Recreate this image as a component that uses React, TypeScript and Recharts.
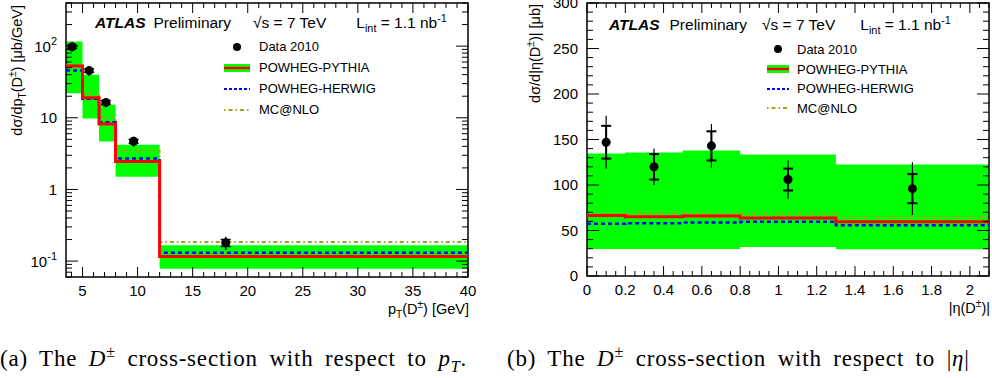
import React from 'react';
import { ComposedChart, Area, Line, Scatter, ErrorBar, XAxis, YAxis, Legend, ReferenceArea } from 'recharts';

// ---- pT panel (a) ----
const ptEdges = [3.5, 5, 6.5, 8, 12, 40];
const ptPythia = [53, 19, 8.2, 2.45, 0.116];
const ptPythiaLow = [22, 9.8, 4.65, 1.5, 0.078];
const ptPythiaHigh = [116, 40, 15.2, 4.2, 0.166];
const ptHerwig = [45.6, 18.5, 8.7, 2.7, 0.131];
const ptMcnlo = [54, 21.7, 10.2, 3.5, 0.185];
const ptDataX = [4.06, 5.6, 7.12, 9.64, 18.0];
const ptDataY = [98, 45.6, 16.4, 4.7, 0.18];
const ptDataErr = [14, 7, 2.4, 0.75, 0.037];
const ptDataStat = [5, 2.5, 1, 0.3, 0.02];
const ptTicks = [5, 10, 15, 20, 25, 30, 35, 40];
const ptLogTicks = [0.1, 1, 10, 100];

// ---- |eta| panel (b) ----
const etaEdges = [0, 0.2, 0.5, 0.8, 1.3, 2.1];
const etaPythia = [66.5, 65, 65.8, 63.6, 59.7];
const etaPythiaLow = [29.8, 29.8, 29.8, 31.8, 29.4];
const etaPythiaHigh = [134.5, 135.6, 137.8, 133.4, 122.4];
const etaHerwig = [57.3, 58.1, 58.8, 59.5, 55.9];
const etaMcnlo = [67.5, 68, 68, 68, 64.5];
const etaDataX = [0.1, 0.35, 0.65, 1.05, 1.7];
const etaDataY = [147, 120, 143, 106, 96];
const etaDataErr = [29, 20, 24, 21, 29];
const etaDataStat = [18, 14, 16, 12, 16];
const etaTicks = [0, 0.2, 0.4, 0.6, 0.8, 1, 1.2, 1.4, 1.6, 1.8, 2];
const etaYTicks = [0, 50, 100, 150, 200, 250, 300];

const legendNames = ['Data 2010', 'POWHEG-PYTHIA', 'POWHEG-HERWIG', 'MC@NLO'];

const FONT = '"Liberation Sans", Arial, Helvetica, sans-serif';
const SERIF = '"Liberation Serif", "Times New Roman", serif';
const GREEN = '#00ff00';
const RED = '#ff0000';
const BLUE = '#0000ff';
const OLIVE = '#a5a020';
const TICK_GAP = 8;

const stepRows = (edges: number[], mid: number[], lo: number[], hi: number[], her: number[], mc: number[]) =>
  edges.map((x, i) => {
    const j = Math.min(i, mid.length - 1);
    return { x, band: [lo[j], hi[j]], pythia: mid[j], herwig: her[j], mcnlo: mc[j] };
  });

const pointRows = (xs: number[], ys: number[], err: number[], stat: number[]) =>
  xs.map((x, i) => ({ x, y: ys[i], err: err[i], stat: stat[i] }));

const range = (a: number, b: number, step: number) => {
  const out: number[] = [];
  for (let v = a; v <= b + 1e-9; v += step) out.push(Math.round(v * 1000) / 1000);
  return out;
};

const logMinor = (lo: number, hi: number) => {
  const out: number[] = [];
  for (let e = -2; e <= 2; e++) {
    for (let m = 1; m <= 9; m++) {
      const v = m * Math.pow(10, e);
      if (v >= lo && v <= hi) out.push(v);
    }
  }
  return out;
};

const isMajor = (majors: number[], v: number) => majors.some((m) => Math.abs(m - v) < 1e-6 * Math.max(1, Math.abs(m)));

const logLabel = (v: number) => {
  const e = Math.round(Math.log10(v));
  if (e === 0) return '1';
  if (e === 1) return '10';
  return (
    <>
      10
      <tspan dy={-7} fontSize={11}>{e}</tspan>
    </>
  );
};

// x ticks: inward on bottom and top of the frame, label only on majors
const makeXTick = (majors: number[], top: number, fmt: (v: number) => React.ReactNode) => (props: any) => {
  const { x, y, payload } = props;
  const v = payload.value;
  const maj = isMajor(majors, v);
  const bottom = y - TICK_GAP;
  const len = maj ? 10 : 5;
  return (
    <g>
      <line x1={x} x2={x} y1={bottom} y2={bottom - len} stroke="#000" />
      <line x1={x} x2={x} y1={top} y2={top + len} stroke="#000" />
      {maj && (
        <text x={x} y={y} dy="0.71em" textAnchor="middle" fontSize={15} fontFamily={FONT} fill="#000">{fmt(v)}</text>
      )}
    </g>
  );
};

// y ticks: inward on left and right of the frame
const makeYTick = (majors: number[], plotW: number, fmt: (v: number) => React.ReactNode) => (props: any) => {
  const { x, y, payload } = props;
  const v = payload.value;
  const maj = isMajor(majors, v);
  const left = x + TICK_GAP + 1;
  const right = left + plotW;
  const len = maj ? 12 : 6;
  return (
    <g>
      <line x1={left} x2={left + len} y1={y} y2={y} stroke="#000" />
      <line x1={right} x2={right - len} y1={y} y2={y} stroke="#000" />
      {maj && (
        <text x={x} y={y} dy="0.36em" textAnchor="end" fontSize={15} fontFamily={FONT} fill="#000">{fmt(v)}</text>
      )}
    </g>
  );
};

const LegendSymbol = ({ kind, w }: { kind: number; w: number }) => (
  <svg width={w} height={16} style={{ display: 'block' }}>
    {kind === 0 && <circle cx={w / 2} cy={8} r={4} fill="#000" />}
    {kind === 1 && (
      <>
        <rect x={2} y={4} width={w - 4} height={8} fill={GREEN} />
        <line x1={2} x2={w - 2} y1={8} y2={8} stroke={RED} strokeWidth={2.5} />
      </>
    )}
    {kind === 2 && <line x1={2} x2={w - 2} y1={8} y2={8} stroke={BLUE} strokeWidth={2} strokeDasharray="3 2" />}
    {kind === 3 && <line x1={2} x2={w - 2} y1={8} y2={8} stroke={OLIVE} strokeWidth={2} strokeDasharray="1.5 3 4 3" />}
  </svg>
);

const makeLegend = (rowH: number, symW: number, gap: number) => () => (
  <div style={{ fontFamily: FONT, fontSize: 13, color: '#000' }}>
    {legendNames.map((n, i) => (
      <div key={n} style={{ display: 'flex', alignItems: 'center', height: rowH }}>
        <LegendSymbol kind={i} w={symW} />
        <span style={{ marginLeft: gap, whiteSpace: 'nowrap' }}>{n}</span>
      </div>
    ))}
  </div>
);

const sup = { fontSize: '0.7em', verticalAlign: '0.55em', lineHeight: 0 } as const;
const sub = { fontSize: '0.7em', verticalAlign: '-0.35em', lineHeight: 0 } as const;

const Header = ({ x, y, gaps }: { x: number; y: number; gaps: number[] }) => (
  <div style={{ position: 'absolute', left: x, top: y - 10, height: 20, lineHeight: '20px', fontFamily: FONT, fontSize: 15.5, whiteSpace: 'nowrap' }}>
    <span style={{ fontWeight: 'bold', fontStyle: 'italic' }}>ATLAS</span>
    <span style={{ marginLeft: gaps[0] }}>Preliminary</span>
    <span style={{ marginLeft: gaps[1] }}>√s = 7 TeV</span>
    <span style={{ marginLeft: gaps[2] }}>L<span style={sub}>int</span> = 1.1 nb<span style={sup}>-1</span></span>
  </div>
);

const PtChart = () => {
  const steps = stepRows(ptEdges, ptPythia, ptPythiaLow, ptPythiaHigh, ptHerwig, ptMcnlo);
  const pts = pointRows(ptDataX, ptDataY, ptDataErr, ptDataStat);
  const xd = [3.5, 40];
  const yd = [0.06, 400];
  const m = { top: 3, right: 12, bottom: 3, left: 6 };
  const W = 480, H = 300, yW = 60, xH = 20;
  const plotW = W - m.left - m.right - yW;
  return (
    <ComposedChart width={W} height={H} margin={m}>
      <Area xAxisId="x" yAxisId="y" data={steps} dataKey="band" type="stepAfter" fill={GREEN} fillOpacity={1}
        stroke="none" isAnimationActive={false} />
      <Line xAxisId="x" yAxisId="y" data={steps} dataKey="mcnlo" type="stepAfter" stroke={OLIVE} strokeWidth={2}
        strokeDasharray="1.5 3 4 3" dot={false} isAnimationActive={false} />
      <Line xAxisId="x" yAxisId="y" data={steps} dataKey="herwig" type="stepAfter" stroke={BLUE} strokeWidth={2.5}
        strokeDasharray="4 3" dot={false} isAnimationActive={false} />
      <Line xAxisId="x" yAxisId="y" data={steps} dataKey="pythia" type="stepAfter" stroke={RED} strokeWidth={3}
        dot={false} isAnimationActive={false} />
      <Scatter xAxisId="x" yAxisId="y" data={pts} dataKey="y" fill="#000" isAnimationActive={false}>
        <ErrorBar dataKey="err" direction="y" width={0} stroke="#000" strokeWidth={1.5} />
        <ErrorBar dataKey="stat" direction="y" width={5} stroke="#000" strokeWidth={1.5} />
      </Scatter>
      <ReferenceArea xAxisId="x" yAxisId="y" x1={xd[0]} x2={xd[1]} y1={yd[0]} y2={yd[1]}
        fill="none" stroke="#000" strokeWidth={1.5} />
      <XAxis xAxisId="x" dataKey="x" type="number" domain={xd} allowDataOverflow ticks={range(4, 40, 1)} interval={0}
        tickLine={false} axisLine={false} tickSize={0} tickMargin={TICK_GAP} height={xH}
        tick={makeXTick(ptTicks, m.top, (v) => String(v))} />
      <YAxis yAxisId="y" type="number" scale="log" domain={yd} allowDataOverflow ticks={logMinor(0.06, 400)} interval={0}
        tickLine={false} axisLine={false} tickSize={0} tickMargin={TICK_GAP + 1} width={yW}
        tick={makeYTick(ptLogTicks, plotW, logLabel)} />
      <Legend content={makeLegend(21, 30, 7)} layout="vertical" verticalAlign="middle" align="center"
        wrapperStyle={{ left: 222, top: 36, width: 200 }} />
    </ComposedChart>
  );
};

const EtaChart = () => {
  const steps = stepRows(etaEdges, etaPythia, etaPythiaLow, etaPythiaHigh, etaHerwig, etaMcnlo);
  const pts = pointRows(etaDataX, etaDataY, etaDataErr, etaDataStat);
  const xd = [0, 2.1];
  const yd = [0, 300];
  const m = { top: 3, right: 3, bottom: 4, left: 27 };
  const W = 492, H = 300, yW = 60, xH = 20;
  const plotW = W - m.left - m.right - yW;
  return (
    <ComposedChart width={W} height={H} margin={m}>
      <Area xAxisId="x" yAxisId="y" data={steps} dataKey="band" type="stepAfter" fill={GREEN} fillOpacity={1}
        stroke="none" isAnimationActive={false} />
      <Line xAxisId="x" yAxisId="y" data={steps} dataKey="mcnlo" type="stepAfter" stroke={OLIVE} strokeWidth={2}
        strokeDasharray="1.5 3 4 3" dot={false} isAnimationActive={false} />
      <Line xAxisId="x" yAxisId="y" data={steps} dataKey="herwig" type="stepAfter" stroke={BLUE} strokeWidth={2.5}
        strokeDasharray="4 3" dot={false} isAnimationActive={false} />
      <Line xAxisId="x" yAxisId="y" data={steps} dataKey="pythia" type="stepAfter" stroke={RED} strokeWidth={3}
        dot={false} isAnimationActive={false} />
      <Scatter xAxisId="x" yAxisId="y" data={pts} dataKey="y" fill="#000" isAnimationActive={false}>
        <ErrorBar dataKey="err" direction="y" width={0} stroke="#000" strokeWidth={1.2} />
        <ErrorBar dataKey="stat" direction="y" width={5} stroke="#000" strokeWidth={2} />
      </Scatter>
      <ReferenceArea xAxisId="x" yAxisId="y" x1={xd[0]} x2={xd[1]} y1={yd[0]} y2={yd[1]}
        fill="none" stroke="#000" strokeWidth={1.5} />
      <XAxis xAxisId="x" dataKey="x" type="number" domain={xd} allowDataOverflow ticks={range(0, 2.1, 0.05)} interval={0}
        tickLine={false} axisLine={false} tickSize={0} tickMargin={TICK_GAP} height={xH}
        tick={makeXTick(etaTicks, m.top, (v) => String(v))} />
      <YAxis yAxisId="y" type="number" domain={yd} allowDataOverflow ticks={range(0, 300, 10)} interval={0}
        tickLine={false} axisLine={false} tickSize={0} tickMargin={TICK_GAP + 1} width={yW}
        tick={makeYTick(etaYTicks, plotW, (v) => String(v))} />
      <Legend content={makeLegend(19.7, 26, 6)} layout="vertical" verticalAlign="middle" align="center"
        wrapperStyle={{ left: 265, top: 39.5, width: 200 }} />
    </ComposedChart>
  );
};

const YTitle = ({ cx, top, children }: { cx: number; top: number; children: React.ReactNode }) => (
  <div style={{
    position: 'absolute', left: cx - 10, top: top + 260, width: 260, height: 20, lineHeight: '20px',
    textAlign: 'right', transformOrigin: 'left top', transform: 'rotate(-90deg)',
    fontFamily: FONT, fontSize: 14.5, whiteSpace: 'nowrap',
  }}>{children}</div>
);

const XTitle = ({ right, cy, children }: { right: number; cy: number; children: React.ReactNode }) => (
  <div style={{
    position: 'absolute', left: right - 200, top: cy - 10, width: 200, height: 20, lineHeight: '20px',
    textAlign: 'right', fontFamily: FONT, fontSize: 14.5, whiteSpace: 'nowrap',
  }}>{children}</div>
);

const Caption = ({ x, children }: { x: number; children: React.ReactNode }) => (
  <div style={{
    position: 'absolute', left: x, top: 346, height: 26, lineHeight: '26px',
    fontFamily: SERIF, fontSize: 23, letterSpacing: 0.8, wordSpacing: 5, whiteSpace: 'nowrap',
  }}>{children}</div>
);

export default function App() {
  return (
    <div style={{ position: 'absolute', left: 0, top: 0, width: 992, height: 378, overflow: 'hidden', background: '#fff', color: '#000' }}>
      <div style={{ position: 'absolute', left: 0, top: 0 }}><PtChart /></div>
      <div style={{ position: 'absolute', left: 500, top: 0 }}><EtaChart /></div>

      <Header x={95} y={23} gaps={[8, 22, 30]} />
      <Header x={609} y={25} gaps={[10, 15, 25]} />

      <YTitle cx={17} top={5}>dσ/dp<span style={sub}>T</span>(D<span style={sup}>±</span>) [μb/GeV]</YTitle>
      <YTitle cx={535} top={4}>dσ/d|η(D<span style={sup}>±</span>)| [μb]</YTitle>
      <XTitle right={469} cy={309}>p<span style={sub}>T</span>(D<span style={sup}>±</span>) [GeV]</XTitle>
      <XTitle right={990} cy={308}>|η(D<span style={sup}>±</span>)|</XTitle>

      <Caption x={0}>(a) The <i>D</i><span style={sup}>±</span> cross-section with respect to <i>p</i><span style={sub}><i>T</i></span>.</Caption>
      <Caption x={507}>(b) The <i>D</i><span style={sup}>±</span> cross-section with respect to |<i>η</i>|</Caption>
    </div>
  );
}
